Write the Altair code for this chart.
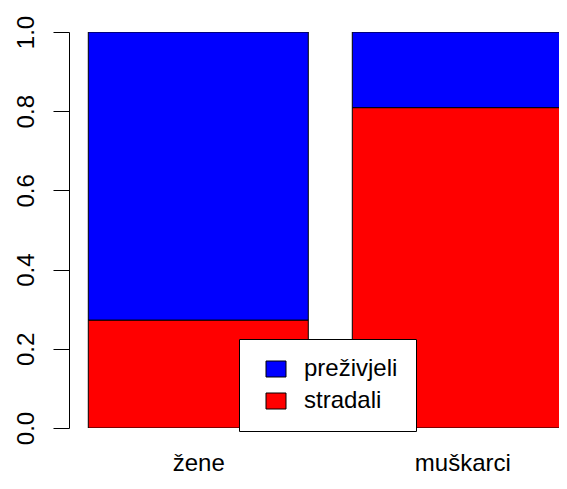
import altair as alt
import pandas as pd

# --- data ---
groups = ["žene", "muškarci"]
died_share = [0.2725, 0.809]          # "stradali" share per group
outcomes = ["preživjeli", "stradali"]
colors = ["#0000FF", "#FF0000"]
y_ticks = [0.0, 0.2, 0.4, 0.6, 0.8, 1.0]

# R barplot geometry: width 1, space 0.2
rows = []
centers = []
for i, g in enumerate(groups):
    left = 0.2 + i * 1.2
    centers.append(left + 0.5)
    d = died_share[i]
    rows.append(dict(group=g, outcome="stradali", x=left, x2=left + 1, y=0.0, y2=d))
    rows.append(dict(group=g, outcome="preživjeli", x=left, x2=left + 1, y=d, y2=1.0))
df = pd.DataFrame(rows)

FONT = "Liberation Sans"

label_expr = "datum.value < 1.3 ? '%s' : '%s'" % (groups[0], groups[1])

x_axis = alt.Axis(values=centers, labelExpr=label_expr, domain=False, ticks=False,
                  tickSize=0, grid=False, title=None, labelFontSize=24, labelFont=FONT,
                  labelColor="black", labelBaseline="alphabetic", labelPadding=42,
                  labelFlush=False, labelOverlap=False)

y_axis = alt.Axis(values=y_ticks, format=".1f", labelAngle=270, labelAlign="center",
                  labelBaseline="alphabetic", labelPadding=20, tickSize=16,
                  tickColor="black", domainColor="black", labelFontSize=24,
                  labelFont=FONT, labelColor="black", grid=False, title=None,
                  labelFlush=False, labelOverlap=False)

legend = alt.Legend(title=None, orient="none", legendX=170, legendY=307, padding=18,
                    fillColor="white", strokeColor="black",
                    symbolType="M-1.25,-1H1.25V1H-1.25Z", symbolSize=256,
                    symbolStrokeColor="black", symbolStrokeWidth=1, symbolOpacity=1,
                    symbolOffset=7, labelOffset=16, rowPadding=8,
                    labelFontSize=24, labelFont=FONT, labelColor="black", labelLimit=400)

chart = alt.Chart(df).mark_bar(stroke="black", strokeWidth=1, clip=True, opacity=1).encode(
    x=alt.X("x:Q", scale=alt.Scale(domain=[0.1123, 2.3396], nice=False, zero=False), axis=x_axis),
    x2="x2:Q",
    y=alt.Y("y:Q", scale=alt.Scale(domain=[0, 1], nice=False), axis=y_axis),
    y2="y2:Q",
    color=alt.Color("outcome:N", scale=alt.Scale(domain=outcomes, range=colors), legend=legend),
).properties(
    width=490, height=396,
    padding={"left": 61, "top": 24, "right": 0, "bottom": 48},
    autosize=alt.AutoSizeParams(type="none"),
).configure_view(stroke=None)

chart.save("out.html", embed_options={"renderer": "svg", "actions": False})
